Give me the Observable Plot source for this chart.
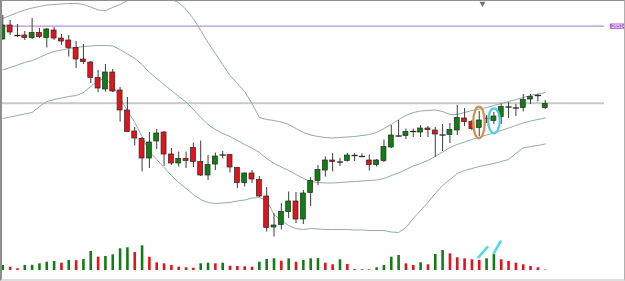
<!DOCTYPE html>
<html><head><meta charset="utf-8">
<script src="https://cdn.jsdelivr.net/npm/d3@7"></script>
<script src="https://cdn.jsdelivr.net/npm/@observablehq/plot@0.6"></script>
<style>
html,body{margin:0;padding:0;background:#fff;}
#wrap{position:relative;width:625px;height:281px;overflow:hidden;background:#fff;}
#wrap svg{position:absolute;left:0;}
#frame{position:absolute;left:0;top:0;width:625px;height:281px;box-sizing:border-box;border-left:2px solid #8e8e8e;border-top:1px solid #8e8e8e;border-right:1px solid #b0b0b0;border-bottom:2px solid #dcdcdc;pointer-events:none;}
</style></head><body><div id="wrap"><div id="frame"></div></div>
<script>
// ---- data ----
const open = [
1.2638,1.2652,1.26425,1.2642,1.26395,1.26445,1.26395,1.2647,1.2639,1.2637,
1.26295,1.2618,1.2615,1.25995,1.2588,1.2605,1.2587,1.2567,1.2546,1.25385,
1.2519,1.2536,1.2545,1.2523,1.2514,1.25185,1.25295,1.25155,1.2502,1.2513,
1.2523,1.25225,1.25095,1.24945,1.2504,1.24975,1.2481,1.2450,1.24525,1.24655,
1.2476,1.2458,1.24845,1.24965,1.2507,1.2517,1.2516,1.25165,1.2522,1.25215,
1.2517,1.25125,1.25165,1.2530,1.2542,1.25415,1.25455,1.2545,1.2549,1.2547,
1.2543,1.25425,1.2547,1.2559,1.25555,1.25495,1.25585,1.25565,1.25605,1.2570,
1.2570,1.25695,1.2578,1.2582,1.25695];
const high = [
1.2662,1.2657,1.2653,1.2646,1.2659,1.2649,1.2649,1.2650,1.2643,1.2642,
1.2636,1.2633,1.2616,1.2607,1.2613,1.2608,1.2590,1.2580,1.2550,1.2540,
1.2545,1.2548,1.2546,1.2529,1.25255,1.25255,1.25345,1.25365,1.2522,1.25245,
1.2526,1.2523,1.2510,1.25045,1.2507,1.2501,1.2490,1.2464,1.2474,1.24855,
1.2485,1.2487,1.2500,1.2512,1.25205,1.2524,1.2519,1.2524,1.2524,1.25235,
1.25225,1.2518,1.25375,1.2552,1.2557,1.25485,1.25485,1.2552,1.2551,1.2550,
1.2553,1.2554,1.2572,1.2569,1.2557,1.2566,1.2562,1.2565,1.25735,1.2575,
1.2573,1.2583,1.2583,1.2583,1.2577];
const low = [
1.26375,1.2642,1.2640,1.2637,1.2638,1.2639,1.26295,1.2637,1.2632,1.26205,
1.2609,1.2613,1.2594,1.2585,1.25855,1.2585,1.25555,1.2545,1.25315,1.25055,
1.2509,1.2528,1.2511,1.2512,1.25105,1.2509,1.2510,1.2501,1.2497,1.2507,
1.25185,1.25045,1.2489,1.24905,1.2494,1.2480,1.24455,1.24405,1.24475,1.2459,
1.2454,1.2453,1.2471,1.2492,1.25005,1.25055,1.2511,1.25155,1.2516,1.2520,
1.25065,1.25105,1.2515,1.2529,1.2540,1.2538,1.2540,1.2540,1.2540,1.2520,
1.2526,1.2534,1.2542,1.2551,1.2547,1.2541,1.2554,1.2553,1.2553,1.2559,
1.2561,1.25655,1.2573,1.25755,1.2568];
const close = [
1.2652,1.2645,1.2642,1.26395,1.26445,1.26405,1.2648,1.2639,1.2636,1.26295,
1.2618,1.26155,1.25995,1.2589,1.2605,1.2586,1.2567,1.25455,1.2539,1.2519,
1.2535,1.2544,1.2523,1.2514,1.25185,1.25165,1.25155,1.2502,1.25125,1.2521,
1.25225,1.2510,1.24945,1.2504,1.2498,1.2481,1.24495,1.2452,1.24655,1.2476,
1.2458,1.2484,1.24965,1.25075,1.2517,1.25155,1.25155,1.2522,1.2522,1.2521,
1.25125,1.2517,1.25305,1.2542,1.25415,1.25455,1.2546,1.2549,1.25475,1.2543,
1.25425,1.25475,1.25595,1.25555,1.25485,1.2557,1.2559,1.2561,1.25705,1.25705,
1.25695,1.25775,1.25805,1.2582,1.25735];
const volume = [
5000,3300,1700,5000,5200,6700,8300,9000,7300,10000,
9800,11000,19000,13300,14000,15700,21700,22700,18000,24700,
13300,7700,6700,5000,3300,2700,2300,6700,7300,6700,
7300,4300,4000,3700,3300,8300,11000,11700,9300,11700,
8300,10000,11700,11900,7300,5700,10700,6000,1000,700,
600,2700,5000,13300,15000,6700,5000,7700,5700,16000,
20000,16700,12700,11700,10700,10000,11700,16000,10700,9000,
7300,5700,4000,2700,500];
const bandUpper = [
1.2659,1.2662,1.2665,1.26675,1.26695,1.2671,1.26725,1.2673,1.26735,1.2674,
1.2674,1.2673,1.26705,1.26675,1.2667,1.2670,1.2673,1.2677,1.2680,1.2682,
1.2683,1.2682,1.2680,1.2678,1.2675,1.2668,1.2659,1.2647,1.2635,1.2624,
1.2613,1.2602,1.2594,1.2586,1.2574,1.2560,1.2558,1.2557,1.25555,1.2553,
1.2549,1.2545,1.25425,1.2541,1.2540,1.25395,1.2540,1.25405,1.2541,1.2542,
1.2543,1.2545,1.2549,1.2553,1.2558,1.2562,1.2565,1.25665,1.2567,1.25675,
1.2566,1.2563,1.2563,1.2565,1.2567,1.25685,1.2570,1.2572,1.2574,1.2576,
1.2578,1.2580,1.2582,1.25835,1.2585];
const bandMiddle = [
1.26075,1.2610,1.26125,1.2615,1.2617,1.2620,1.26235,1.2626,1.26275,1.2629,
1.2630,1.2631,1.26315,1.2632,1.2632,1.26315,1.2628,1.26235,1.2619,1.2613,
1.2605,1.2599,1.2593,1.2587,1.2581,1.25755,1.2568,1.2560,1.2553,1.2548,
1.2544,1.2541,1.2537,1.2533,1.25295,1.2525,1.2519,1.2514,1.25105,1.2507,
1.2503,1.2499,1.2496,1.2495,1.24945,1.24945,1.2495,1.24955,1.2496,1.24965,
1.2497,1.24975,1.2499,1.2502,1.25045,1.2508,1.25115,1.2514,1.2517,1.2521,
1.25255,1.2530,1.2533,1.25355,1.2538,1.25405,1.25425,1.25445,1.2547,1.25495,
1.2552,1.25545,1.25565,1.2558,1.25595];
const bandLower = [
1.2559,1.25605,1.2562,1.25635,1.2565,1.2571,1.2576,1.2578,1.25795,1.2581,
1.2582,1.2585,1.2591,1.2597,1.2599,1.2592,1.2579,1.2567,1.2555,1.2541,
1.2526,1.2518,1.2510,1.2502,1.2495,1.2489,1.2483,1.2478,1.2475,1.2474,
1.24745,1.2475,1.24765,1.24775,1.24795,1.2480,1.2477,1.2463,1.2457,1.2452,
1.2449,1.2448,1.2449,1.24485,1.2448,1.2448,1.2448,1.2448,1.24475,1.24475,
1.2447,1.2447,1.2447,1.24455,1.2445,1.2450,1.2459,1.2467,1.2475,1.2484,
1.2492,1.2498,1.2504,1.2507,1.2509,1.2511,1.25125,1.2514,1.2516,1.2518,
1.2524,1.25295,1.2531,1.2532,1.25335];
const levelPurple = 1.26514;
const levelGray = 1.25742;
// hand-drawn annotations
const ellipseBar = [65.03, 67.08];
const ellipseTop = [1.25703, 1.25687];
const ellipseBottom = [1.25387, 1.25437];
const ellipseColor = ["#d4914f", "#57cbe3"];
const slashBar1 = [64.9, 67.0];
const slashBar2 = [66.1, 67.9];
const slashVol1 = [13300, 17300];
const slashVol2 = [23300, 29000];
const shiftMarkerBar = [65.44];

// ---- chart ----
const GREEN = "#127d12", RED = "#e3131b", DOJI = "#262626";
const candles = open.map((o, i) => ({i, open: o, high: high[i], low: low[i], close: close[i], volume: volume[i]}));
const isDoji = d => Math.abs(d.close - d.open) < 0.00006;
const bodies = candles.filter(d => !isDoji(d));
const dojis = candles.filter(isDoji);
const xDomain = [-0.3138, 82.088];
const idx = d3.range(candles.length);

const wrap = document.getElementById("wrap");
const frame = document.getElementById("frame");

const pricePlot = Plot.plot({
  width: 625, height: 240,
  marginLeft: 0, marginRight: 21, marginTop: 0, marginBottom: 0,
  x: {type: "linear", domain: xDomain, axis: null},
  y: {type: "linear", domain: [1.2437, 1.2677], axis: null},
  color: {type: "identity"},
  style: {background: "transparent", overflow: "visible"},
  marks: [
    Plot.ruleY([levelGray], {stroke: "#c9c9c9", strokeWidth: 2}),
    Plot.ruleY([levelPurple], {stroke: "#a47bbb", strokeWidth: 1}),
    Plot.line(idx, {x: i => i, y: i => bandUpper[i], stroke: "#93aca6", strokeWidth: 1, clip: true}),
    Plot.line(idx, {x: i => i, y: i => bandMiddle[i], stroke: "#93aca6", strokeWidth: 1, clip: true}),
    Plot.line(idx, {x: i => i, y: i => bandLower[i], stroke: "#93aca6", strokeWidth: 1, clip: true}),
    Plot.ruleX(candles, {x: "i", y1: "low", y2: "high", stroke: "#3c3c3c", strokeWidth: 1}),
    Plot.rect(bodies, {x1: d => d.i - 0.34, x2: d => d.i + 0.34, y1: "open", y2: "close",
      fill: d => d.close > d.open ? GREEN : RED, stroke: "#2a2a2a", strokeWidth: 0.7}),
    Plot.link(dojis, {x1: d => d.i - 0.42, x2: d => d.i + 0.42, y1: "close", y2: "close", stroke: DOJI, strokeWidth: 1.3}),
    Plot.dot(shiftMarkerBar, {x: d => d, frameAnchor: "top", dy: 3, symbol: "triangle", r: 2.2, rotate: 180, fill: "#777"}),
    Plot.text([levelPurple], {y: d => d, text: d => d.toFixed(5), frameAnchor: "right", dx: 3, textAnchor: "start",
      fill: "white", fontSize: 5, fontFamily: "Liberation Sans"})
  ]
});
pricePlot.style.top = "0px";
wrap.insertBefore(pricePlot, frame);

const volPlot = Plot.plot({
  width: 625, height: 41,
  marginLeft: 0, marginRight: 21, marginTop: 0, marginBottom: 11,
  x: {type: "linear", domain: xDomain, axis: null},
  y: {type: "linear", domain: [0, 30000], axis: null},
  color: {type: "identity"},
  style: {background: "transparent", overflow: "visible"},
  marks: [
    Plot.ruleX(candles, {x: "i", y1: 0, y2: "volume", strokeWidth: 2.6,
      stroke: d => (d.i === 0 || d.volume > volume[d.i - 1]) ? GREEN : RED}),
    Plot.link(d3.range(slashBar1.length), {x1: i => slashBar1[i], x2: i => slashBar2[i], y1: i => slashVol1[i], y2: i => slashVol2[i],
      stroke: "#55d6ea", strokeWidth: 2.6, strokeLinecap: "round"})
  ]
});
volPlot.style.top = "240px";
wrap.insertBefore(volPlot, frame);

// ellipses through the plot's own scales
const sx = pricePlot.scale("x"), sy = pricePlot.scale("y");
const svgP = d3.select(pricePlot);
ellipseBar.forEach((b, k) => {
  const yT = sy.apply(ellipseTop[k]), yB = sy.apply(ellipseBottom[k]);
  svgP.append("ellipse")
    .attr("cx", sx.apply(b)).attr("cy", (yT + yB) / 2)
    .attr("rx", sx.apply(b + 0.79) - sx.apply(b)).attr("ry", Math.abs(yB - yT) / 2)
    .attr("fill", "none").attr("stroke", ellipseColor[k]).attr("stroke-width", 2.3);
});

// label box behind the price text
const svgRect = pricePlot.getBoundingClientRect();
svgP.selectAll("text").each(function() {
  const bb = this.getBoundingClientRect();
  d3.select(this.parentNode).insert("rect", ":first-child")
    .attr("x", bb.left - svgRect.left - 1.2).attr("y", bb.top - svgRect.top + 0.3)
    .attr("width", bb.width + 2.4).attr("height", bb.height - 0.6)
    .attr("fill", "#b163cf");
});
</script></body></html>
